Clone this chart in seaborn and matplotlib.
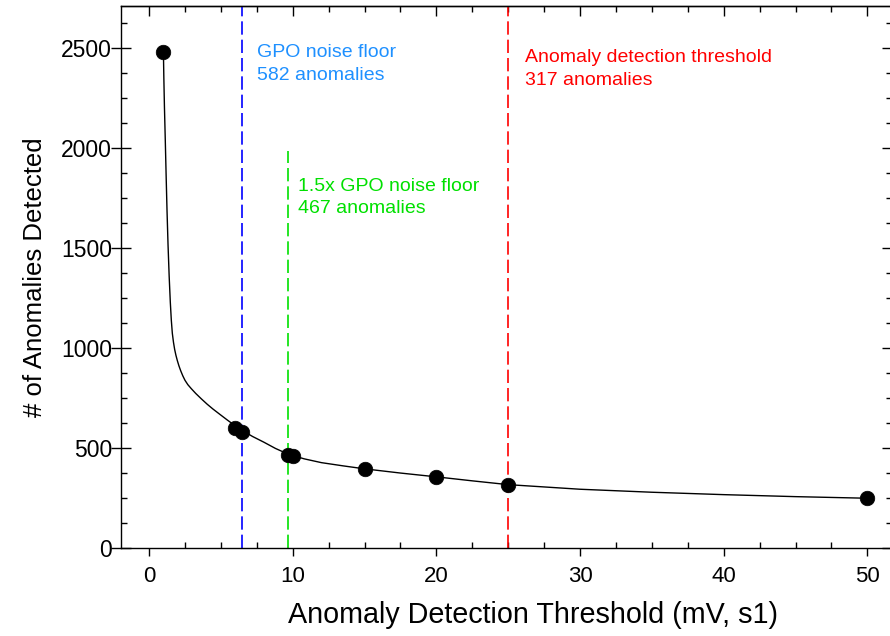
import numpy as np
import pandas as pd
import matplotlib
matplotlib.use("Agg")
import matplotlib.pyplot as plt
import seaborn as sns
from matplotlib.ticker import MultipleLocator

# Measured points
threshold = [1, 6, 6.47, 9.7, 10, 15, 20, 25, 50]
anomalies = [2480, 603, 582, 467, 462, 397, 357, 317, 250]

# Fitted curve
fit_x = [1.0, 1.03, 1.07, 1.13, 1.19, 1.25, 1.32, 1.40, 1.48, 1.55, 1.62, 1.70, 1.78, 1.87,
         1.97, 2.08, 2.20, 2.35, 2.50, 2.70, 2.94, 3.25, 3.64, 4.05, 4.45, 4.92, 5.45,
         6.0, 6.47, 7.2, 8.0, 8.8, 9.7, 10.8, 12.0, 13.5, 15.0, 17.5, 20.0, 22.5, 25.0,
         30.0, 35.0, 40.0, 45.0, 50.0]
fit_y = [2480, 2350, 2210, 2040, 1860, 1690, 1520, 1360, 1230, 1140, 1075, 1030, 995, 965,
         938, 912, 888, 862, 840, 818, 798, 774, 747, 720, 696, 670, 641,
         612, 590, 559, 530, 499, 470, 447, 428, 412, 397, 376, 357, 337, 318,
         295, 280, 268, 258, 250]

# Reference thresholds
gpo_floor = 6.47
gpo_floor_15 = 9.7
detect_thr = 25
gpo_label = "GPO noise floor\n582 anomalies"
gpo15_label = "1.5x GPO noise floor\n467 anomalies"
detect_label = "Anomaly detection threshold\n317 anomalies"
gpo15_top = 1985

sns.set_theme(style="ticks")
plt.rcParams["font.family"] = ["Liberation Sans", "DejaVu Sans"]
plt.rcParams["text.color"] = "black"
plt.rcParams["axes.labelcolor"] = "black"

fig = plt.figure(figsize=(8.9, 6.36), dpi=100)
ax = fig.add_axes([0.136, 0.138, 0.866, 0.853])

sns.lineplot(x=fit_x, y=fit_y, ax=ax, color="black", lw=1.0, sort=False, estimator=None, zorder=3)
sns.scatterplot(x=threshold, y=anomalies, ax=ax, s=110, color="black", edgecolor="black",
                linewidth=0.5, zorder=5)

ymax = 2713
ax.set_xlim(-1.95, 51.7)
ax.set_ylim(0, ymax)

dash = (8.0, 3.0)
ax.vlines(gpo_floor, 0, ymax, color="#0000FF", lw=1.2, linestyles=[(0, dash)], zorder=2)
ax.vlines(gpo_floor_15, 0, gpo15_top, color="#00E000", lw=1.2, linestyles=[(0, dash)], zorder=2)
ax.vlines(detect_thr, 0, ymax, color="#FF0000", lw=1.2, linestyles=[(0, dash)], zorder=2)

ax.annotate(gpo_label, xy=(gpo_floor, 2520), xytext=(10.5, 0), textcoords="offset points",
            ha="left", va="top", fontsize=14, color="#1E90FF", linespacing=1.4)
ax.annotate(gpo15_label, xy=(gpo_floor_15, 1850), xytext=(7, 0), textcoords="offset points",
            ha="left", va="top", fontsize=14, color="#00E000", linespacing=1.4)
ax.annotate(detect_label, xy=(detect_thr, 2495), xytext=(12, 0), textcoords="offset points",
            ha="left", va="top", fontsize=14, color="#FF0000", linespacing=1.4)

ax.set_xlabel("Anomaly Detection Threshold (mV, s1)", fontsize=20.7, color="black")
ax.xaxis.set_label_coords(0.534, -0.097)
ax.set_ylabel("# of Anomalies Detected", fontsize=18.5, labelpad=10, color="black")

ax.xaxis.set_major_locator(MultipleLocator(10))
ax.xaxis.set_minor_locator(MultipleLocator(2.5))
ax.yaxis.set_major_locator(MultipleLocator(500))
ax.yaxis.set_minor_locator(MultipleLocator(125))

for s in ax.spines.values():
    s.set_visible(True)
    s.set_linewidth(1.0)
    s.set_color("black")

ax.tick_params(axis="x", which="major", direction="out", length=6, width=1.0, labelsize=16,
               color="black", labelcolor="black", pad=7)
ax.tick_params(axis="x", which="minor", direction="in", length=4, width=1.0, color="black")
ax.tick_params(axis="y", which="major", direction="inout", length=14, width=1.0, labelsize=16.5,
               color="black", labelcolor="black", pad=-0.5)
ax.tick_params(axis="y", which="minor", direction="in", length=4, width=1.0, color="black")

secx = ax.secondary_xaxis("top")
secx.xaxis.set_major_locator(MultipleLocator(10))
secx.xaxis.set_minor_locator(MultipleLocator(2.5))
secx.tick_params(which="major", direction="in", length=7, width=1.0, labeltop=False, color="black")
secx.tick_params(which="minor", direction="in", length=4, width=1.0, color="black")
secx.spines["top"].set_linewidth(1.0)

secy = ax.secondary_yaxis("right")
secy.yaxis.set_major_locator(MultipleLocator(500))
secy.yaxis.set_minor_locator(MultipleLocator(125))
secy.tick_params(which="major", direction="in", length=7, width=1.0, labelright=False, color="black")
secy.tick_params(which="minor", direction="in", length=4, width=1.0, color="black")

ax.grid(False)
fig.savefig("out.png", dpi=100, facecolor="white")
